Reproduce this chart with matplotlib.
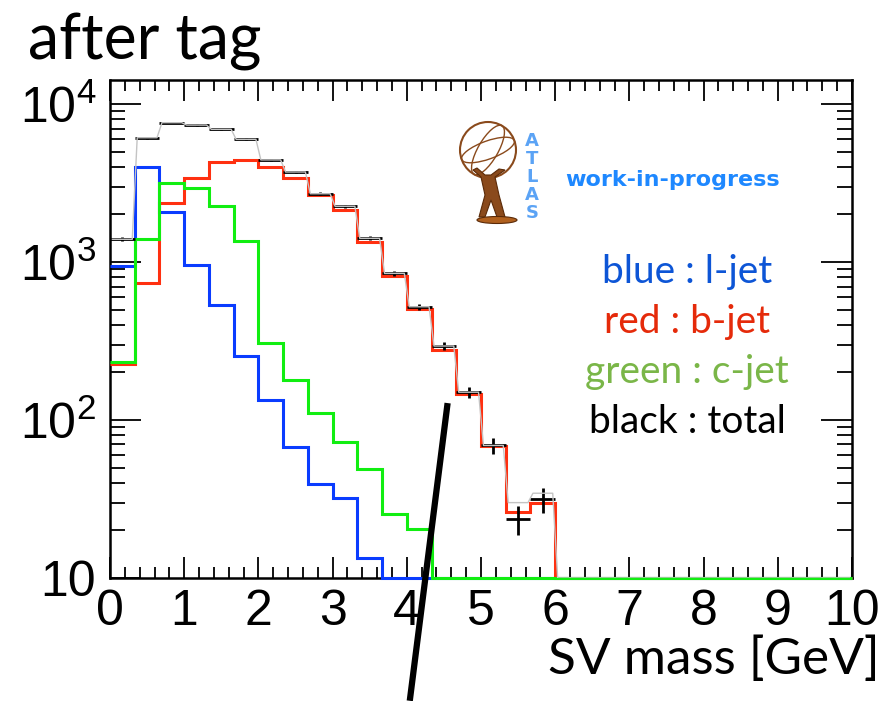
import numpy as np
import matplotlib.pyplot as plt
from matplotlib.patches import Circle, Ellipse, Polygon
from matplotlib.ticker import LogLocator, MultipleLocator, NullFormatter

plt.rcParams['mathtext.fontset'] = 'custom'
plt.rcParams['mathtext.rm'] = 'Liberation Sans'

# SV mass bins: 30 bins of 1/3 GeV from 0 to 10
edges = np.linspace(0, 10, 31)

# entries per bin (bins after the listed ones are empty)
light_jet = [950, 4010, 2080, 957, 535, 254, 134, 67.8, 39.2, 31.9, 13.3]
b_jet = [225, 740, 2373, 3390, 4315, 4410, 4010, 3390, 2656, 2134, 1343, 815,
         502, 277, 146, 68.7, 26.1, 29.7]
c_jet = [233, 1393, 3180, 2952, 2260, 1358, 308, 179, 111, 72.9, 48.9, 25.3, 20.4]
total = [1393, 6120, 7620, 7360, 6920, 5980, 4430, 3715, 2705, 2254, 1413, 848,
         521, 294, 150, 69, 23.6, 31.5]
total_err = [37, 78, 87, 86, 83, 77, 67, 61, 52, 47, 38, 29, 23, 17, 12, 8, 4.8, 5.6]
total_line = [1393, 6120, 7620, 7360, 6920, 5980, 4430, 3715, 2705, 2254, 1413, 848,
              521, 294, 150, 69, 30, 34.4]

# hand drawn cut line (x in GeV, y in entries)
cut_x = [4.55, 4.04]
cut_y = [128, 1.67]

ymin, ymax = 10, 1.42e4


def full(v):
    return np.array(list(v) + [0] * (30 - len(v)), dtype=float)


fig = plt.figure(figsize=(8.86, 7.01), dpi=100)
ax = fig.add_axes([110 / 886, 1 - 578 / 701, 742 / 886, 498 / 701])

ax.stairs(np.clip(full(light_jet), ymin, None), edges, baseline=None,
          color='#0a3cff', lw=2.2, clip_on=False, zorder=3)
ax.stairs(np.clip(full(b_jet), ymin, None), edges, baseline=None,
          color='#ff3010', lw=2.2, clip_on=False, zorder=3)
ax.stairs(np.clip(full(c_jet), ymin, None), edges, baseline=None,
          color='#11ee11', lw=2.2, clip_on=False, zorder=4)

centers = 0.5 * (edges[:-1] + edges[1:])
w = edges[1] - edges[0]
n = len(total)
ax.errorbar(centers[:n], total, xerr=w / 2, yerr=total_err, fmt='none',
            ecolor='black', elinewidth=2, capsize=0, zorder=5)

# thin grey line following the total
gl = np.clip(full(total_line), ymin, None)
gx = np.ravel(np.column_stack([edges[:-1] + 0.1 * w, edges[1:] - 0.1 * w]))
gy = np.repeat(gl, 2)
ax.plot(gx, gy, color='#c4c4c4', lw=1, zorder=6)

ax.plot(cut_x, cut_y, color='black', lw=4.5, clip_on=False, zorder=7,
        solid_capstyle='butt')

ax.set_yscale('log')
ax.set_xlim(0, 10)
ax.set_ylim(ymin, ymax)
ax.set_xticks(range(11))
ax.xaxis.set_minor_locator(MultipleLocator(0.2))
ax.set_yticks([10, 100, 1000, 10000])
ax.set_yticklabels(['10', r'$10^{2}$', r'$10^{3}$', r'$10^{4}$'])
ax.yaxis.set_minor_locator(LogLocator(base=10, subs=np.arange(2, 10)))
ax.yaxis.set_minor_formatter(NullFormatter())
for lab in ax.get_xticklabels() + ax.get_yticklabels():
    lab.set_family('Liberation Sans')
    lab.set_fontsize(36)
ax.tick_params(which='both', direction='in', top=True, right=True, width=1.3)
ax.tick_params(axis='x', which='major', length=15, pad=8)
ax.tick_params(axis='x', which='minor', length=8)
ax.tick_params(axis='y', which='major', length=22, pad=10)
ax.tick_params(axis='y', which='minor', length=11)
for s in ax.spines.values():
    s.set_linewidth(1.8)

fig.text(28 / 886, 1 - 42 / 701, 'after tag', family='Lato', fontsize=45,
         va='center', ha='left')
fig.text(880 / 886, 1 - 660 / 701, 'SV mass [GeV]', family='Lato', fontsize=37,
         va='center', ha='right')
fig.text(673 / 886, 1 - 180 / 701, 'work-in-progress', family='DejaVu Sans',
         fontweight='bold', fontsize=16, color='#1e88ff', va='center', ha='center')

legend_lines = ['blue : l-jet', 'red : b-jet', 'green : c-jet', 'black : total']
legend_colors = ['#0d55d6', '#e52a0a', '#7ab648', 'black']
for i, (t, c) in enumerate(zip(legend_lines, legend_colors)):
    fig.text(687 / 886, 1 - (272 + 50 * i) / 701, t, family='Lato', fontsize=28,
             color=c, va='center', ha='center')

# rough ATLAS logo
lax = fig.add_axes([455 / 886, 1 - 225 / 701, 85 / 886, 107 / 701])
lax.set_xlim(0, 85)
lax.set_ylim(0, 107)
lax.axis('off')
brown = '#8a4a1c'
lax.add_patch(Circle((33, 75), 28, fill=False, ec=brown, lw=1.5))
lax.add_patch(Ellipse((33, 75), 20, 56, fill=False, ec=brown, lw=1, angle=-30))
lax.add_patch(Ellipse((33, 75), 56, 18, fill=False, ec=brown, lw=1, angle=20))
lax.add_patch(Polygon([(18, 55), (26, 48), (30, 30), (24, 8), (30, 8), (36, 25),
                       (42, 8), (50, 8), (44, 30), (40, 48), (50, 55), (44, 56),
                       (36, 50), (30, 50), (22, 57)], closed=True, fc=brown, ec='#5a2a08',
                      lw=0.8))
lax.add_patch(Ellipse((42, 5), 40, 7, fc='#b0601e', ec='#5a2a08', lw=0.8))
for k, ch in enumerate('ATLAS'):
    lax.text(77, 84 - 18 * k, ch, family='DejaVu Sans', fontweight='bold',
             fontsize=13, color='#5ba3f5', ha='center', va='center')

fig.savefig('out.png', dpi=100)
